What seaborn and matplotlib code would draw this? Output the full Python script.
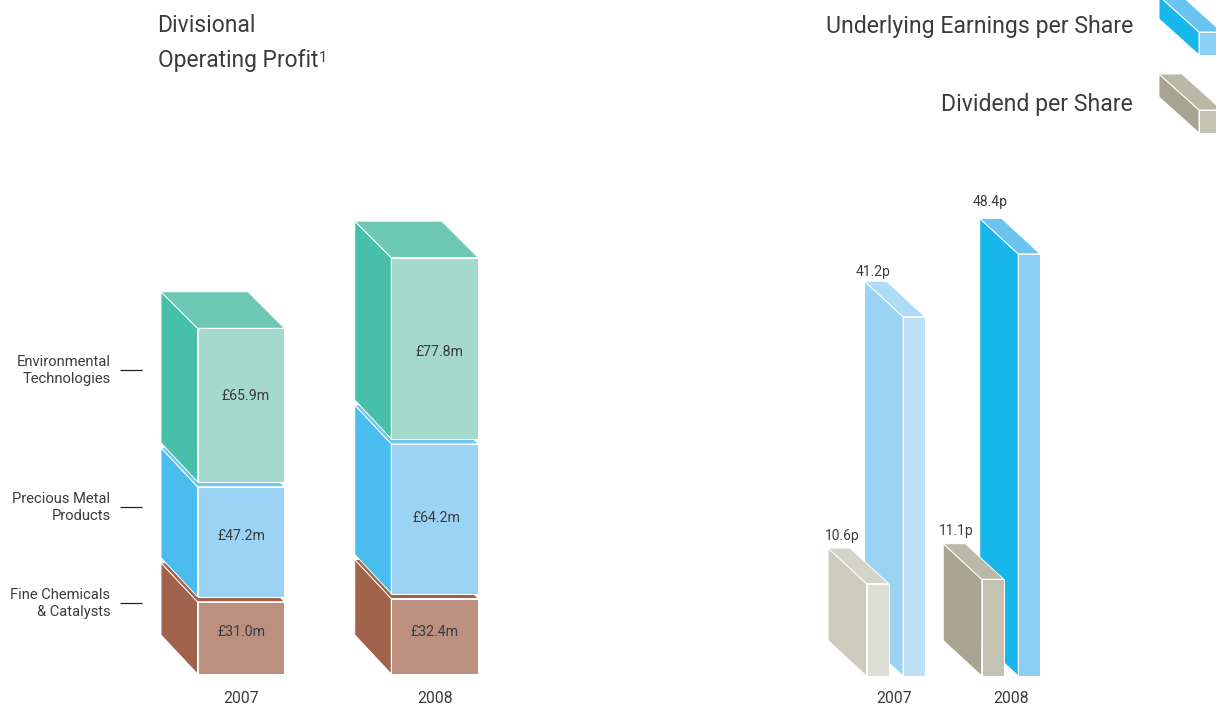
import numpy as np
import pandas as pd
import matplotlib.pyplot as plt
import seaborn as sns
from matplotlib.patches import Polygon
from matplotlib.transforms import IdentityTransform, Affine2D

years = ['2007', '2008']

# Divisional operating profit, £m
divisiones = ['Fine Chemicals\n& Catalysts', 'Precious Metal\nProducts', 'Environmental\nTechnologies']
fine_chemicals = [31.0, 32.4]
precious_metal = [47.2, 64.2]
environmental = [65.9, 77.8]

# pence per share
eps = [41.2, 48.4]
dividend = [10.6, 11.1]

W, H = 1216, 706
TEXTO = '#3c3c3e'
BORDE = 0.7

sns.set_theme(style='white')
plt.rcParams['font.family'] = ['Roboto', 'DejaVu Sans']

fig = plt.figure(figsize=(W / 100, H / 100), dpi=100)


def crear_ejes(x0, x1, top, bottom):
    return fig.add_axes([x0 / W, 1 - bottom / H, (x1 - x0) / W, (bottom - top) / H])


def cara(ax, pts, color, z):
    ax.add_artist(Polygon(pts, closed=True, facecolor=color, edgecolor='white', linewidth=BORDE,
                          transform=IdentityTransform(), clip_on=False, zorder=z))


def prisma(ax, bar, colores, dx, dy_abajo, dy_arriba, z):
    # side and top faces are pushed back from the front face of the bar
    lado, techo, frente = colores
    (x0, y0), (x1, y1) = ax.transData.transform([bar.get_xy(),
                                                 (bar.get_x() + bar.get_width(), bar.get_y() + bar.get_height())])
    cara(ax, [(x0, y0), (x0, y1), (x0 + dx, y1 + dy_arriba), (x0 + dx, y0 + dy_abajo)], lado, z)
    cara(ax, [(x0, y1), (x1, y1), (x1 + dx, y1 + dy_arriba), (x0 + dx, y1 + dy_arriba)], techo, z)
    bar.set_facecolor(frente)
    bar.set_edgecolor('white')
    bar.set_linewidth(BORDE)
    bar.set_zorder(z + 0.5)


# ---------- Divisional operating profit ----------
ax1 = crear_ejes(142, 536, 200, 674)
ax1.set_ylim(0, (674 - 200) / 2.33)

colores_div = [
    ('#a0624b', '#a0624b', '#bc907e'),
    ('#4abdee', '#6fc6ef', '#9ad3f3'),
    ('#48bfa8', '#6cc8b4', '#a5d9cb'),
]
valores_div = [fine_chemicals, precious_metal, environmental]
hueco = 5 / 2.33  # white gap between the stacked blocks

df_div = pd.DataFrame({'year': years * 3,
                       'division': np.repeat(divisiones, 2),
                       'profit': fine_chemicals + precious_metal + environmental})

# label offsets from the centre of the front face, pixels
offset_x = [[0, 0], [0, 2], [4, 5]]
offset_y = [[6, 4], [6, 1], [9, -4]]
dy_techo = [39, 39, 36.5]

base = np.zeros(2)
barras_div = []
for i, nombre in enumerate(divisiones):
    sub = df_div[df_div['division'] == nombre]
    n = len(ax1.patches)
    sns.barplot(data=sub, x='year', y='profit', bottom=base, width=0.449, color=colores_div[i][0],
                saturation=1, ax=ax1)
    barras_div.append(ax1.patches[n:])
    base = base + np.array(valores_div[i]) + hueco

ax1.set_xlim(-(241 - 142) / 193.75, (536 - 241) / 193.75)
ax1.set_ylim(0, (674 - 200) / 2.33)

for i, barras in enumerate(barras_div):
    for j, bar in enumerate(barras):
        prisma(ax1, bar, colores_div[i], -36.5, 39, dy_techo[i], 2 + i)
        ax1.annotate(f'£{valores_div[i][j]:.1f}m',
                     (bar.get_x() + bar.get_width() / 2, bar.get_y() + bar.get_height() / 2),
                     xytext=(offset_x[i][j], offset_y[i][j]), textcoords='offset pixels',
                     ha='center', va='center', fontsize=10.2, color=TEXTO, zorder=10)

ax1.set_yticks([(674 - 603) / 2.33, (674 - 507) / 2.33, (674 - 370) / 2.33])
ax1.set_yticklabels(divisiones, fontsize=10.6, color=TEXTO, ha='right', linespacing=1.3)
ax1.tick_params(axis='y', left=True, length=22 * 0.72, width=0.9, color='#222222', pad=9.5 * 0.72)
ax1.tick_params(axis='x', bottom=False, length=0, labelsize=11.3, labelcolor=TEXTO, pad=12.5)
ax1.set_xlabel('')
ax1.set_ylabel('')
sns.despine(ax=ax1, left=True, bottom=True)
for etiqueta in ax1.get_yticklabels():
    etiqueta.set_transform(etiqueta.get_transform() + Affine2D().translate(0, 2.5))

# ---------- Earnings and dividend per share ----------
ax2 = crear_ejes(780, 1126, 190, 676)

df_eps = pd.DataFrame({'year': years * 2,
                       'measure': ['Dividend per Share'] * 2 + ['Underlying Earnings per Share'] * 2,
                       'pence': dividend + eps})
sns.barplot(data=df_eps, x='year', y='pence', hue='measure',
            hue_order=['Dividend per Share', 'Underlying Earnings per Share'],
            width=0.634, gap=0.397, saturation=1, legend=False, ax=ax2)
ax2.set_xlim(-(895.8 - 780) / 115.2, (1126 - 895.8) / 115.2)
ax2.set_ylim(0, (676 - 190) / 8.72)

colores_dividend = [('#cdcbbe', '#d4d3c8', '#dedfd4'), ('#a7a592', '#bab9a7', '#c5c3b4')]
colores_eps = [('#9bd3f2', '#aedbf5', '#bde0f6'), ('#17b7ec', '#6bc4ef', '#8bd0f3')]

offset_lab = {'div': [(14, 12), (13, 13)], 'eps': [(9, 9), (10, 16)]}

barras = [b for b in ax2.patches if b.get_height() > 0]
barras_dividend = sorted(barras[:2], key=lambda b: b.get_x())
barras_eps = sorted(barras[2:], key=lambda b: b.get_x())

for j, bar in enumerate(barras_eps):
    prisma(ax2, bar, colores_eps[j], -38.5, 35.5, 35.5, 2)
for j, bar in enumerate(barras_dividend):
    prisma(ax2, bar, colores_dividend[j], -38.5, 35.5, 35.5, 4)

for barras_s, valores, clave in [(barras_eps, eps, 'eps'), (barras_dividend, dividend, 'div')]:
    for j, bar in enumerate(barras_s):
        ox, oy = offset_lab[clave][j]
        ax2.annotate(f'{valores[j]}p', (bar.get_x(), bar.get_height()),
                     xytext=(-38.5 + ox, 35.5 + oy), textcoords='offset pixels',
                     ha='center', va='center', fontsize=10, color=TEXTO, zorder=10)

ax2.set_yticks([])
ax2.tick_params(axis='x', bottom=False, length=0, labelsize=11.3, labelcolor=TEXTO, pad=10.5)
ax2.set_xlabel('')
ax2.set_ylabel('')
sns.despine(ax=ax2, left=True, bottom=True)
ax2.patch.set_alpha(0)
ax2.get_xticklabels()[0].set_transform(ax2.get_xticklabels()[0].get_transform() + Affine2D().translate(-2, 0))

# ---------- Titles and legend ----------
fig.text(157.5 / W, 1 - 26 / H, 'Divisional', fontsize=16.5, color=TEXTO, va='center', ha='left')
fig.text(158 / W, 1 - 60 / H, 'Operating Profit', fontsize=16.4, color=TEXTO, va='center', ha='left')
fig.text(319 / W, 1 - 58 / H, '1', fontsize=10.5, color=TEXTO, va='center', ha='left')
fig.text(1133 / W, 1 - 26 / H, 'Underlying Earnings per Share', fontsize=16.6, color=TEXTO, va='center', ha='right')
fig.text(1133 / W, 1 - 105 / H, 'Dividend per Share', fontsize=16.6, color=TEXTO, va='center', ha='right')


def muestra(y_bottom, colores):
    lado, techo, frente = colores
    x0, x1 = 1199, 1222
    y0, y1 = H - y_bottom, H - y_bottom + 23
    dx, dy = -40, 36
    for pts, c in [([(x0, y0), (x0, y1), (x0 + dx, y1 + dy), (x0 + dx, y0 + dy)], lado),
                   ([(x0, y1), (x1, y1), (x1 + dx, y1 + dy), (x0 + dx, y1 + dy)], techo),
                   ([(x0, y0), (x1, y0), (x1, y1), (x0, y1)], frente)]:
        fig.add_artist(Polygon(pts, closed=True, facecolor=c, edgecolor='white', linewidth=BORDE,
                               transform=IdentityTransform()))


muestra(55, colores_eps[1])
muestra(133, colores_dividend[1])

plt.savefig('out.png', dpi=100)
